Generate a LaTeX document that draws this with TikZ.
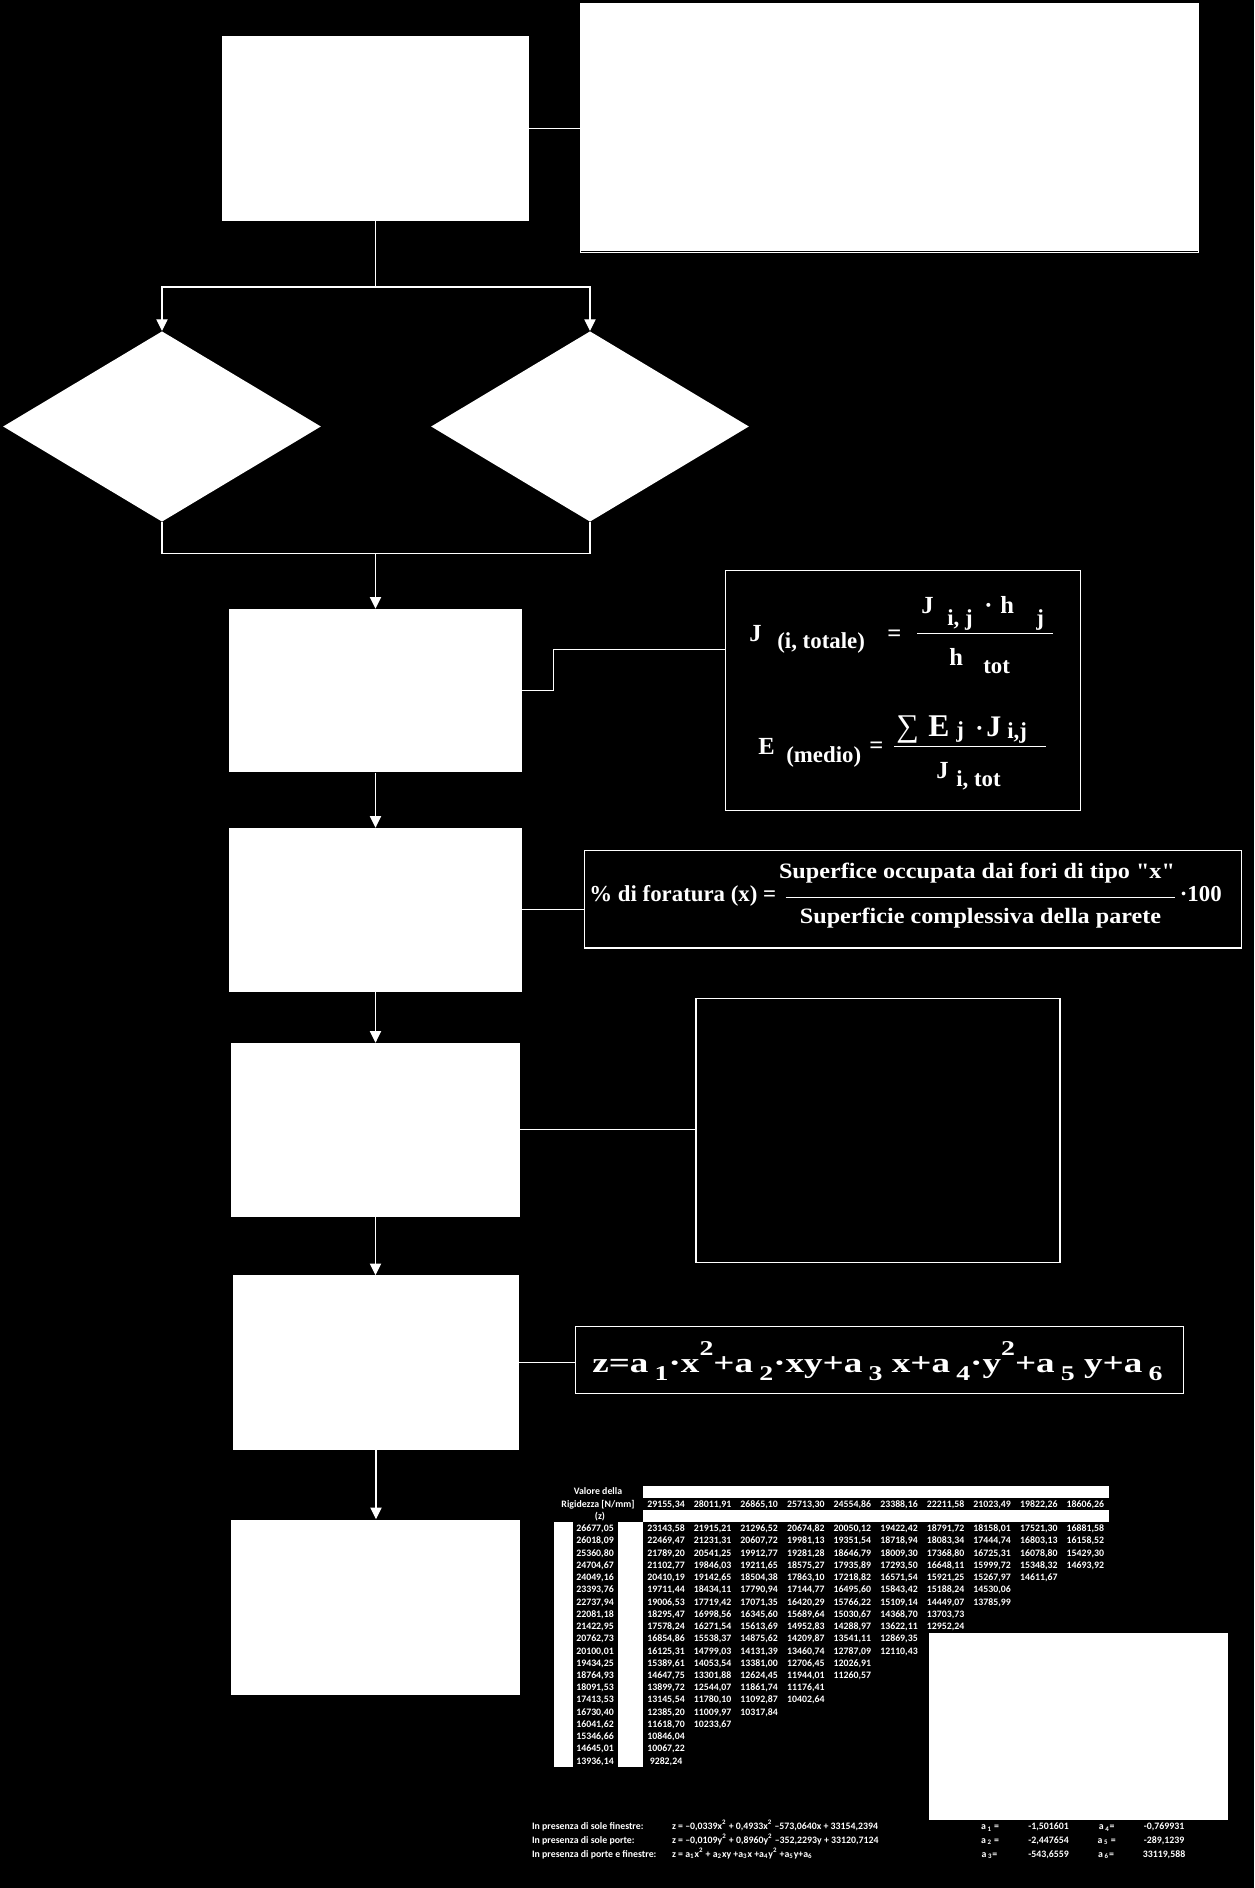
\documentclass[tikz,border=0pt]{standalone}
\usepackage{fontspec}
\usepackage{graphicx}
\setmainfont{Liberation Serif}
\newfontfamily\quotefont[Ligatures=TeXOff]{Liberation Serif}
\newfontfamily\tabfont{Carlito}
\usetikzlibrary{positioning,shapes.geometric,arrows.meta}
\newcommand{\fs}[1]{\fontsize{#1}{#1}\selectfont}
\newcommand{\zsub}[1]{\,\raisebox{-4.2pt}{\fs{12}#1}}
\newcommand{\zsup}[1]{\raisebox{10pt}{\fs{12}#1}}
% one line of the stiffness table: row number, z value, list of values
\newcommand{\tabrow}[3]{%
  \node[tab] (z#1) at (595,{1531.7+12.23*(#1-1)}) {#2};
  \foreach \cell [count=\col] in {#3}
    \node[tab] (v#1-\col) at ({666+46.6*(\col-1)},{1531.7+12.23*(#1-1)}) {\cell};}

\begin{document}
\begin{tikzpicture}[x=0.02cm, y=-0.02cm,
    box/.style={rectangle, fill=white, inner sep=0pt},
    dec/.style={diamond, fill=white, inner sep=0pt,
                minimum width=6.36cm, minimum height=3.81cm},
    frm/.style={rectangle, draw=white, line width=0.7pt, inner sep=0pt},
    ln/.style={white, line width=0.6pt},
    arr/.style={ln, -{Triangle[width=6.4pt,length=6.6pt]}},
    bar/.style={white, line width=0.8pt},
    jf/.style={text=white, inner sep=0pt, anchor=base west, font=\bfseries\fs{14}},
    js/.style={jf, font=\bfseries\fs{13}},
    tab/.style={text=white, inner sep=0pt, anchor=base, font=\tabfont\bfseries\fs{5.6}},
    tabl/.style={tab, anchor=base west}]
  \fill[black] (0,0) rectangle (1254,1888);
  \useasboundingbox (0,0) rectangle (1254,1888);

  % flow chart
  \node[box, minimum width=6.14cm, minimum height=3.70cm] (b1) at (375.5,128.5) {};
  \node[box, minimum width=12.38cm, minimum height=5.0cm] (top) at (889.5,128) {};
  \draw[black, line width=0.5pt] ([xshift=1pt,yshift=1.2pt]top.south west)
    -- ([xshift=-1pt,yshift=1.2pt]top.south east);
  \node[dec] (d1) at (162,426.5) {};
  \node[dec] (d2) at (590,426.5) {};
  \node[box, minimum width=5.86cm, minimum height=3.27cm] (b2) at (375.5,690.75) {};
  \node[box, minimum width=5.86cm, minimum height=3.27cm] (b3) at (375.5,909.85) {};
  \node[box, minimum width=5.78cm, minimum height=3.47cm] (b4) at (375.5,1129.85) {};
  \node[box, minimum width=5.72cm, minimum height=3.49cm] (b6) at (376,1362.7) {};
  \node[box, minimum width=5.78cm, minimum height=3.51cm] (b7) at (375.5,1607.3) {};
  \node[frm, minimum width=7.10cm, minimum height=4.81cm] (jbox) at (903,690.65) {};
  \node[frm, minimum width=13.14cm, minimum height=1.95cm] (pbox) at (912.85,899.35) {};
  \node[frm, minimum width=7.28cm, minimum height=5.28cm] (b5) at (878,1130.5) {};
  \node[frm, minimum width=12.16cm, minimum height=1.34cm] (zbox) at (879.45,1359.8) {};
  \node[box, minimum width=5.98cm, minimum height=3.74cm] (chart) at (1078.5,1726.5) {};

  \coordinate (s1) at (375.5,287);
  \coordinate (j1) at (375.5,553.8);
  \draw[ln] (b1.east) -- (b1.east -| top.west);
  \draw[ln] (b1.south) -- (s1);
  \draw[arr] (s1) -| (d1.north);
  \draw[arr] (s1) -| (d2.north);
  \draw[ln] (d1.south) |- (j1) -| (d2.south);
  \draw[arr] (j1) -- (b2.north);
  \draw[arr] (b2.south) -- (b3.north);
  \draw[arr] (b3.south) -- (b4.north);
  \draw[arr] (b4.south) -- (b4.south |- b6.north);
  \draw[arr] (b6.south) -- (b6.south |- b7.north);
  \draw[ln] (b2.east) -- ++(31.6,0) |- ([yshift=0.83cm]jbox.west);
  \draw[ln] (b3.east) -- (b3.east -| pbox.west);
  \draw[ln] (b4.east) -- (b4.east -| b5.west);
  \draw[ln] (b6.east) -- (b6.east -| zbox.west);

  % J and E formulas
  \node[jf] (jJ) at (749,641) {J};
  \node[js] (jsub) at (777,648) {(i, totale)};
  \node[jf] (jeq) at (887,641.5) {=};
  \draw[bar] (917,633.7) -- (1053,633.7);
  \node[jf] (jnJ) at (921,613) {J};
  \node[js] (jnij) at (947,625) {i, j};
  \node[jf] (jndot) at (984,613) {·};
  \node[jf] (jnh) at (1000,613) {h};
  \node[js] (jnj) at (1036,625) {j};
  \node[jf] (jdh) at (949,665) {h};
  \node[js] (jdtot) at (983,673) {tot};

  \node[jf] (eE) at (758,754) {E};
  \node[js] (emed) at (786,762) {(medio)};
  \node[jf] (eeq) at (869,753) {=};
  \draw[bar] (894,746.7) -- (1045.6,746.7);
  \node[jf, font=\fs{18}] (esum) at (896,736.7) {∑};
  \node[jf, font=\bfseries\fs{18}] (enE) at (928,736.7) {E};
  \node[js] (enj) at (956,737) {j};
  \node[jf] (endot) at (975,736.7) {·};
  \node[jf, font=\bfseries\fs{17}] (enJ) at (986,736.7) {J};
  \node[js] (enij) at (1007,738) {i,j};
  \node[jf] (edJ) at (936,778.3) {J};
  \node[js] (editot) at (956,786.7) {i, tot};

  % percentage formula
  \node[jf, font=\bfseries\fs{13}] (pl) at (589,901.7) {\% di foratura (x) =};
  \draw[bar] (785.7,897.3) -- (1175,897.3);
  \node[jf, anchor=base, font=\bfseries\fs{12.5}] (pn) at (977,878.3)
    {\scalebox{1.1}[1]{Superfice occupata dai fori di tipo {\quotefont\bfseries "x"}}};
  \node[jf, anchor=base, font=\bfseries\fs{12.5}] (pd) at (980.5,923.3)
    {\scalebox{1.1}[1]{Superficie complessiva della parete}};
  \node[jf, font=\bfseries\fs{13}] (pc) at (1179.5,901.7) {·100};

  % surface formula
  \node[jf, font=\bfseries\fs{16}] (zf) at (592,1372.7)
    {\scalebox{1.32}[1]{z=a\zsub{1}·x\zsup{2}+a\zsub{2}·xy+a\zsub{3} x+a\zsub{4}·y\zsup{2}+a\zsub{5} y+a\zsub{6}}};

  % stiffness table
  \fill[white] (643.3,1486) rectangle (1109,1498);
  \fill[white] (643.3,1510) rectangle (1109,1522);
  \fill[white] (554,1522) rectangle (572.7,1766.7);
  \fill[white] (618,1522) rectangle (643.3,1766.7);
  \node[tab] (hv) at (598,1494.7) {Valore della};
  \node[tab] (hr) at (598,1507) {Rigidezza [N/mm]};
  \node[tab] (hz) at (600,1519) {(z)};
  \foreach \cell [count=\col] in {{29155,34},{28011,91},{26865,10},{25713,30},{24554,86},
      {23388,16},{22211,58},{21023,49},{19822,26},{18606,26}}
    \node[tab] (h\col) at ({666+46.6*(\col-1)},1507) {\cell};
  \tabrow{1}{26677,05}{{23143,58},{21915,21},{21296,52},{20674,82},{20050,12},{19422,42},{18791,72},{18158,01},{17521,30},{16881,58}}
  \tabrow{2}{26018,09}{{22469,47},{21231,31},{20607,72},{19981,13},{19351,54},{18718,94},{18083,34},{17444,74},{16803,13},{16158,52}}
  \tabrow{3}{25360,80}{{21789,20},{20541,25},{19912,77},{19281,28},{18646,79},{18009,30},{17368,80},{16725,31},{16078,80},{15429,30}}
  \tabrow{4}{24704,67}{{21102,77},{19846,03},{19211,65},{18575,27},{17935,89},{17293,50},{16648,11},{15999,72},{15348,32},{14693,92}}
  \tabrow{5}{24049,16}{{20410,19},{19142,65},{18504,38},{17863,10},{17218,82},{16571,54},{15921,25},{15267,97},{14611,67}}
  \tabrow{6}{23393,76}{{19711,44},{18434,11},{17790,94},{17144,77},{16495,60},{15843,42},{15188,24},{14530,06}}
  \tabrow{7}{22737,94}{{19006,53},{17719,42},{17071,35},{16420,29},{15766,22},{15109,14},{14449,07},{13785,99}}
  \tabrow{8}{22081,18}{{18295,47},{16998,56},{16345,60},{15689,64},{15030,67},{14368,70},{13703,73}}
  \tabrow{9}{21422,95}{{17578,24},{16271,54},{15613,69},{14952,83},{14288,97},{13622,11},{12952,24}}
  \tabrow{10}{20762,73}{{16854,86},{15538,37},{14875,62},{14209,87},{13541,11},{12869,35}}
  \tabrow{11}{20100,01}{{16125,31},{14799,03},{14131,39},{13460,74},{12787,09},{12110,43}}
  \tabrow{12}{19434,25}{{15389,61},{14053,54},{13381,00},{12706,45},{12026,91}}
  \tabrow{13}{18764,93}{{14647,75},{13301,88},{12624,45},{11944,01},{11260,57}}
  \tabrow{14}{18091,53}{{13899,72},{12544,07},{11861,74},{11176,41}}
  \tabrow{15}{17413,53}{{13145,54},{11780,10},{11092,87},{10402,64}}
  \tabrow{16}{16730,40}{{12385,20},{11009,97},{10317,84}}
  \tabrow{17}{16041,62}{{11618,70},{10233,67}}
  \tabrow{18}{15346,66}{{10846,04}}
  \tabrow{19}{14645,01}{{10067,22}}
  \tabrow{20}{13936,14}{{9282,24}}

  % regression results
  \node[tabl] (t1) at (531.7,1829) {In presenza di sole finestre:};
  \node[tabl] (t2) at (531.7,1843) {In presenza di sole porte:};
  \node[tabl] (t3) at (531.7,1857) {In presenza di porte e finestre:};
  \node[tabl] (q1) at (671.7,1829)
    {z = –0,0339x\textsuperscript{2} + 0,4933x\textsuperscript{2} –573,0640x + 33154,2394};
  \node[tabl] (q2) at (671.7,1843)
    {z = –0,0109y\textsuperscript{2} + 0,8960y\textsuperscript{2} –352,2293y + 33120,7124};
  \node[tabl] (q3) at (671.7,1857)
    {z = a\textsubscript{1}x\textsuperscript{2} + a\textsubscript{2}xy +a\textsubscript{3}x +a\textsubscript{4}y\textsuperscript{2} +a\textsubscript{5}y+a\textsubscript{6}};
  \node[tab] (a1) at (990,1829.3) {a\,\textsubscript{1} =};
  \node[tab] (c1) at (1048.5,1829.3) {-1,501601};
  \node[tab] (a4) at (1106.7,1829.3) {a\,\textsubscript{4}=};
  \node[tab] (c4) at (1164,1829.3) {-0,769931};
  \node[tab] (a2) at (990,1843) {a\,\textsubscript{2} =};
  \node[tab] (c2) at (1048.5,1843) {-2,447654};
  \node[tab] (a5) at (1106.7,1843) {a\,\textsubscript{5} =};
  \node[tab] (c5) at (1164,1843) {-289,1239};
  \node[tab] (a3) at (989.5,1857) {a\,\textsubscript{3}=};
  \node[tab] (c3) at (1048.5,1857) {-543,6559};
  \node[tab] (a6) at (1106,1857) {a\,\textsubscript{6}=};
  \node[tab] (c6) at (1164,1857) {33119,588};
\end{tikzpicture}
\end{document}
